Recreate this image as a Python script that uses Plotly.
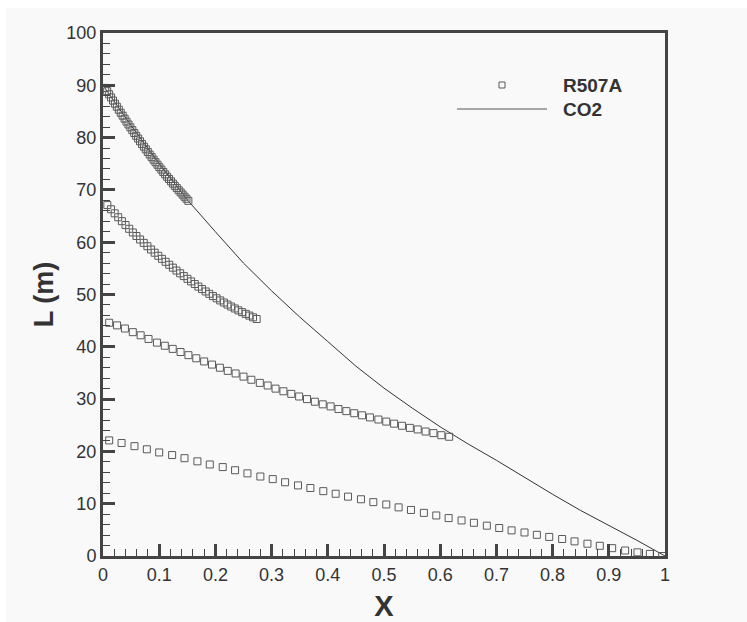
import plotly.graph_objects as go

# ---- data ----
s1_x = [0.004, 0.0074, 0.0109, 0.0143, 0.0178, 0.0212, 0.0246, 0.0281, 0.0315, 0.035,
        0.0384, 0.0418, 0.0453, 0.0487, 0.0522, 0.0556, 0.059, 0.0625, 0.0659, 0.0694,
        0.0728, 0.0762, 0.0797, 0.0831, 0.0866, 0.09, 0.0934, 0.0969, 0.1003, 0.1038,
        0.1072, 0.1106, 0.1141, 0.1175, 0.121, 0.1244, 0.1278, 0.1313, 0.1347, 0.1382,
        0.1416, 0.145, 0.1485, 0.1519]
s1_y = [89.50, 88.88, 88.28, 87.68, 87.08, 86.49, 85.91, 85.33, 84.75, 84.19,
        83.62, 83.06, 82.51, 81.96, 81.42, 80.88, 80.35, 79.82, 79.29, 78.78,
        78.27, 77.76, 77.26, 76.76, 76.27, 75.78, 75.30, 74.82, 74.35, 73.89,
        73.43, 72.97, 72.52, 72.08, 71.64, 71.20, 70.77, 70.35, 69.93, 69.52,
        69.11, 68.70, 68.31, 67.91]

s2_x = [0.0077, 0.0142, 0.0207, 0.0271, 0.0336, 0.0401, 0.0466, 0.0531, 0.0595, 0.066,
        0.0725, 0.079, 0.0855, 0.0919, 0.0984, 0.1049, 0.1114, 0.1179, 0.1243, 0.1308,
        0.1373, 0.1438, 0.1503, 0.1567, 0.1632, 0.1697, 0.1762, 0.1827, 0.1891, 0.1956,
        0.2021, 0.2086, 0.2151, 0.2215, 0.228, 0.2345, 0.241, 0.2475, 0.2539, 0.2604,
        0.2669, 0.2734]
s2_y = [67.10, 66.30, 65.52, 64.77, 64.02, 63.28, 62.56, 61.86, 61.18, 60.52,
        59.87, 59.23, 58.60, 57.99, 57.40, 56.82, 56.25, 55.68, 55.13, 54.58,
        54.05, 53.52, 53.00, 52.50, 52.00, 51.51, 51.04, 50.58, 50.13, 49.70,
        49.28, 48.87, 48.47, 48.08, 47.70, 47.33, 46.97, 46.63, 46.30, 45.97,
        45.64, 45.31]

s3_x = [0.011, 0.025, 0.039, 0.053, 0.067, 0.081, 0.096, 0.110, 0.124, 0.138,
        0.152, 0.166, 0.180, 0.194, 0.208, 0.222, 0.236, 0.250, 0.264, 0.279,
        0.293, 0.307, 0.321, 0.335, 0.349, 0.363, 0.377, 0.391, 0.405, 0.419,
        0.433, 0.447, 0.461, 0.475, 0.490, 0.504, 0.518, 0.532, 0.546, 0.560,
        0.574, 0.588, 0.602, 0.616]
s3_y = [44.6, 44.1, 43.5, 42.8, 42.2, 41.5, 40.8, 40.2, 39.6, 39.0,
        38.4, 37.8, 37.2, 36.6, 36.0, 35.4, 34.9, 34.3, 33.7, 33.1,
        32.6, 32.0, 31.5, 31.0, 30.5, 30.0, 29.5, 29.0, 28.6, 28.1,
        27.7, 27.3, 26.9, 26.5, 26.1, 25.7, 25.3, 24.9, 24.5, 24.2,
        23.8, 23.5, 23.1, 22.8]

s4_x = [0.011, 0.033, 0.056, 0.078, 0.100, 0.123, 0.145, 0.168, 0.190, 0.213,
        0.235, 0.257, 0.280, 0.302, 0.324, 0.347, 0.369, 0.392, 0.414, 0.436,
        0.459, 0.481, 0.504, 0.526, 0.548, 0.571, 0.593, 0.615, 0.638, 0.660,
        0.683, 0.705, 0.727, 0.750, 0.772, 0.794, 0.817, 0.839, 0.862, 0.884,
        0.906, 0.929, 0.951, 0.973, 0.995]
s4_y = [22.1, 21.6, 21.0, 20.4, 19.8, 19.3, 18.7, 18.1, 17.5, 17.0,
        16.4, 15.8, 15.2, 14.7, 14.1, 13.5, 13.0, 12.4, 11.9, 11.35,
        10.85, 10.3, 9.85, 9.3, 8.8, 8.25, 7.75, 7.25, 6.8, 6.35,
        5.8, 5.35, 4.9, 4.5, 4.05, 3.65, 3.25, 2.8, 2.35, 1.95,
        1.5, 1.05, 0.7, 0.4, 0.0]

co2_x = [0, 0.05, 0.1, 0.15, 0.2, 0.25, 0.3, 0.35, 0.4, 0.45, 0.5,
         0.55, 0.6, 0.65, 0.7, 0.75, 0.8, 0.85, 0.9, 0.95, 1.0]
co2_y = [90.0, 82.3, 75.0, 68.1, 62.0, 56.0, 50.7, 45.7, 41.0, 36.3, 32.1,
         28.3, 24.7, 21.4, 18.3, 15.0, 11.8, 8.7, 5.9, 3.0, 0.0]

x_title = "X"
y_title = "L (m)"
legend_names = ["R507A", "CO2"]

# ---- styling ----
BG = "#f9f9f9"
AX = "#444444"
MK = "#5a5a5a"
FONT = "Liberation Sans, Arial, sans-serif"

W, H = 747, 622
L_, R_, T_, B_ = 103, 82, 33, 66
pw, ph = W - L_ - R_, H - T_ - B_

def px2x(px):
    return (px - L_) / pw

def py2y(py):
    return (H - B_ - py) / ph

fig = go.Figure()
fig.add_trace(go.Scatter(x=co2_x, y=co2_y, mode="lines", name=legend_names[1],
                         line=dict(color="#333333", width=1), showlegend=False))
for xs, ys in [(s1_x, s1_y), (s2_x, s2_y), (s3_x, s3_y), (s4_x, s4_y)]:
    fig.add_trace(go.Scatter(x=xs, y=ys, mode="markers", name=legend_names[0],
                             marker=dict(symbol="square-open", size=7, color=MK,
                                         line=dict(width=1, color=MK)),
                             showlegend=False))

axis_common = dict(showline=True, linewidth=3, linecolor=AX, mirror=True,
                   ticks="inside", tickwidth=3, tickcolor=AX, showgrid=False,
                   zeroline=False, automargin=False,
                   tickfont=dict(family=FONT, size=18, color="#333333"))

fig.update_xaxes(range=[0, 1], dtick=0.1, tick0=0, ticklen=12,
                 minor=dict(ticks="inside", dtick=0.02, ticklen=7, tickwidth=1,
                            tickcolor=AX, showgrid=False),
                 title=dict(text="<b>" + x_title + "</b>", standoff=18,
                            font=dict(family=FONT, size=29, color="#333333")),
                 **axis_common)
fig.update_yaxes(range=[0, 100], dtick=10, tick0=0, ticklen=12,
                 minor=dict(ticks="inside", dtick=2, ticklen=7, tickwidth=1,
                            tickcolor=AX, showgrid=False),
                 title=dict(text="<b>" + y_title + "</b>", standoff=5,
                            font=dict(family=FONT, size=27, color="#333333")),
                 **axis_common)

shapes = [
    # white outer border strips
    dict(type="rect", xref="paper", yref="paper", x0=px2x(0), x1=px2x(W),
         y0=py2y(8), y1=py2y(0), fillcolor="white", line=dict(width=0), layer="below"),
    dict(type="rect", xref="paper", yref="paper", x0=px2x(0), x1=px2x(6),
         y0=py2y(H), y1=py2y(0), fillcolor="white", line=dict(width=0), layer="below"),
    # legend symbols
    dict(type="rect", xref="paper", yref="paper", xsizemode="pixel", ysizemode="pixel",
         xanchor=px2x(502), yanchor=py2y(85), x0=-3, x1=3, y0=-3, y1=3,
         line=dict(color=MK, width=1), fillcolor="rgba(0,0,0,0)"),
    dict(type="line", xref="paper", yref="paper", x0=px2x(457), x1=px2x(547),
         y0=py2y(109), y1=py2y(109), line=dict(color="#555555", width=1)),
]

annotations = [
    dict(text="<b>" + legend_names[0] + "</b>", xref="paper", yref="paper",
         x=px2x(561), y=py2y(85), xanchor="left", yanchor="middle", showarrow=False,
         font=dict(family=FONT, size=19, color="#333333")),
    dict(text="<b>" + legend_names[1] + "</b>", xref="paper", yref="paper",
         x=px2x(561), y=py2y(109), xanchor="left", yanchor="middle", showarrow=False,
         font=dict(family=FONT, size=19, color="#333333")),
]

fig.update_layout(width=W, height=H, margin=dict(l=L_, r=R_, t=T_, b=B_, pad=0),
                  paper_bgcolor=BG, plot_bgcolor=BG, showlegend=False,
                  shapes=shapes, annotations=annotations,
                  font=dict(family=FONT, color="#333333"))

fig.write_html("out.html")
